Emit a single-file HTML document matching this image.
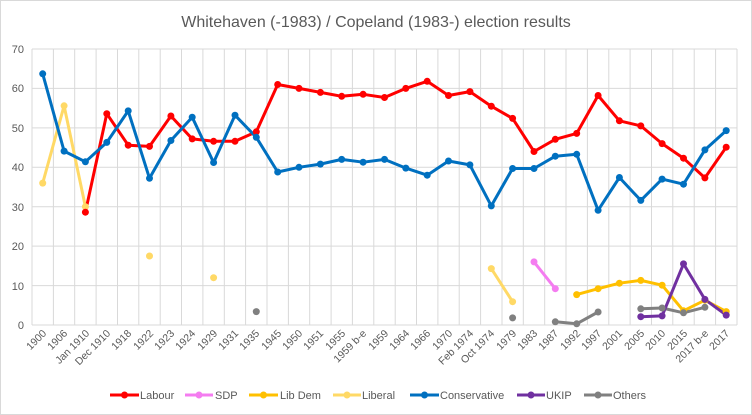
<!DOCTYPE html>
<html><head><meta charset="utf-8"><style>
html,body{margin:0;padding:0;background:#fff}
svg{display:block;font-family:"Liberation Sans",sans-serif}
</style></head><body>
<svg width="752" height="415" viewBox="0 0 752 415" xmlns="http://www.w3.org/2000/svg">
<rect x="0.5" y="0.5" width="751" height="414" fill="#fff" stroke="#d9d9d9"/>
<text x="376" y="27" font-size="16" fill="#595959" text-anchor="middle">Whitehaven (-1983) / Copeland (1983-) election results</text>
<g stroke="#d9d9d9" stroke-width="1">
<line x1="32" y1="49" x2="737" y2="49"/><line x1="32" y1="88.4" x2="737" y2="88.4"/><line x1="32" y1="127.9" x2="737" y2="127.9"/><line x1="32" y1="167.3" x2="737" y2="167.3"/><line x1="32" y1="206.7" x2="737" y2="206.7"/><line x1="32" y1="246.1" x2="737" y2="246.1"/><line x1="32" y1="285.6" x2="737" y2="285.6"/><line x1="32" y1="325" x2="737" y2="325"/>
<line x1="32" y1="49" x2="32" y2="325"/><line x1="53.4" y1="49" x2="53.4" y2="325"/><line x1="74.7" y1="49" x2="74.7" y2="325"/><line x1="96.1" y1="49" x2="96.1" y2="325"/><line x1="117.5" y1="49" x2="117.5" y2="325"/><line x1="138.8" y1="49" x2="138.8" y2="325"/><line x1="160.2" y1="49" x2="160.2" y2="325"/><line x1="181.5" y1="49" x2="181.5" y2="325"/><line x1="202.9" y1="49" x2="202.9" y2="325"/><line x1="224.3" y1="49" x2="224.3" y2="325"/><line x1="245.6" y1="49" x2="245.6" y2="325"/><line x1="267" y1="49" x2="267" y2="325"/><line x1="288.4" y1="49" x2="288.4" y2="325"/><line x1="309.7" y1="49" x2="309.7" y2="325"/><line x1="331.1" y1="49" x2="331.1" y2="325"/><line x1="352.4" y1="49" x2="352.4" y2="325"/><line x1="373.8" y1="49" x2="373.8" y2="325"/><line x1="395.2" y1="49" x2="395.2" y2="325"/><line x1="416.5" y1="49" x2="416.5" y2="325"/><line x1="437.9" y1="49" x2="437.9" y2="325"/><line x1="459.2" y1="49" x2="459.2" y2="325"/><line x1="480.6" y1="49" x2="480.6" y2="325"/><line x1="502" y1="49" x2="502" y2="325"/><line x1="523.3" y1="49" x2="523.3" y2="325"/><line x1="544.7" y1="49" x2="544.7" y2="325"/><line x1="566" y1="49" x2="566" y2="325"/><line x1="587.4" y1="49" x2="587.4" y2="325"/><line x1="608.8" y1="49" x2="608.8" y2="325"/><line x1="630.1" y1="49" x2="630.1" y2="325"/><line x1="651.5" y1="49" x2="651.5" y2="325"/><line x1="672.8" y1="49" x2="672.8" y2="325"/><line x1="694.2" y1="49" x2="694.2" y2="325"/><line x1="715.6" y1="49" x2="715.6" y2="325"/><line x1="737" y1="49" x2="737" y2="325"/>
</g>
<g font-size="11" fill="#595959" text-anchor="end">
<text x="24" y="53">70</text><text x="24" y="92">60</text><text x="24" y="132">50</text><text x="24" y="171">40</text><text x="24" y="211">30</text><text x="24" y="250">20</text><text x="24" y="290">10</text><text x="24" y="329">0</text>
</g>
<g font-size="10.5" fill="#595959" text-anchor="end">
<text transform="translate(47,334) rotate(-45)">1900</text>
<text transform="translate(68,334) rotate(-45)">1906</text>
<text transform="translate(90,334) rotate(-45)">Jan 1910</text>
<text transform="translate(111,334) rotate(-45)">Dec 1910</text>
<text transform="translate(132,334) rotate(-45)">1918</text>
<text transform="translate(154,334) rotate(-45)">1922</text>
<text transform="translate(175,334) rotate(-45)">1923</text>
<text transform="translate(196,334) rotate(-45)">1924</text>
<text transform="translate(218,334) rotate(-45)">1929</text>
<text transform="translate(239,334) rotate(-45)">1931</text>
<text transform="translate(260,334) rotate(-45)">1935</text>
<text transform="translate(282,334) rotate(-45)">1945</text>
<text transform="translate(303,334) rotate(-45)">1950</text>
<text transform="translate(324,334) rotate(-45)">1951</text>
<text transform="translate(346,334) rotate(-45)">1955</text>
<text transform="translate(367,334) rotate(-45)">1959 b-e</text>
<text transform="translate(389,334) rotate(-45)">1959</text>
<text transform="translate(410,334) rotate(-45)">1964</text>
<text transform="translate(431,334) rotate(-45)">1966</text>
<text transform="translate(453,334) rotate(-45)">1970</text>
<text transform="translate(474,334) rotate(-45)">Feb 1974</text>
<text transform="translate(495,334) rotate(-45)">Oct 1974</text>
<text transform="translate(517,334) rotate(-45)">1979</text>
<text transform="translate(538,334) rotate(-45)">1983</text>
<text transform="translate(559,334) rotate(-45)">1987</text>
<text transform="translate(581,334) rotate(-45)">1992</text>
<text transform="translate(602,334) rotate(-45)">1997</text>
<text transform="translate(623,334) rotate(-45)">2001</text>
<text transform="translate(645,334) rotate(-45)">2005</text>
<text transform="translate(666,334) rotate(-45)">2010</text>
<text transform="translate(688,334) rotate(-45)">2015</text>
<text transform="translate(709,334) rotate(-45)">2017 b-e</text>
<text transform="translate(730,334) rotate(-45)">2017</text>
</g>
<g fill="none" stroke-width="3" stroke-linejoin="round">
<polyline stroke="#ffd966" points="42.7,183.1 64.1,105.8 85.4,206.7"/>
<polyline stroke="#ffd966" points="491.3,268.6 512.6,301.7"/>
<polyline stroke="#f47cf0" points="534,261.9 555.3,288.7"/>
<polyline stroke="#ffc000" points="576.7,294.6 598.1,288.7 619.4,283.2 640.8,280.4 662.1,285.2 683.5,310.8 704.9,300.2 726.2,311.6"/>
<polyline stroke="#808080" points="555.3,321.8 576.7,323.8 598.1,312"/>
<polyline stroke="#808080" points="640.8,308.8 662.1,308 683.5,312.8 704.9,307.3"/>
<polyline stroke="#7030a0" points="640.8,316.7 662.1,315.9 683.5,263.9 704.9,299.4 726.2,315.1"/>
<polyline stroke="#ff0000" points="85.4,212.2 106.8,113.7 128.2,145.2 149.5,146.4 170.9,116 192.2,138.9 213.6,141.3 235,141.3 256.3,131.8 277.7,84.5 299,88.4 320.4,92.4 341.7,96.3 363.1,94.3 384.5,97.5 405.8,88.4 427.2,81.3 448.5,95.5 469.9,91.6 491.3,106.2 512.6,118.4 534,151.5 555.3,139.3 576.7,133.4 598.1,95.5 619.4,120.8 640.8,125.9 662.1,143.6 683.5,158.2 704.9,177.9 726.2,147.2"/>
<polyline stroke="#0070c0" points="42.7,73.8 64.1,151.1 85.4,161.8 106.8,142.4 128.2,110.9 149.5,178.3 170.9,140.5 192.2,117.2 213.6,162.5 235,115.2 256.3,137.3 277.7,172 299,167.3 320.4,164.1 341.7,159.4 363.1,162.2 384.5,159.4 405.8,168.1 427.2,175.2 448.5,161 469.9,164.9 491.3,205.9 512.6,168.5 534,168.5 555.3,156.2 576.7,154.3 598.1,210.3 619.4,177.5 640.8,200.4 662.1,179.1 683.5,184.2 704.9,149.9 726.2,130.6"/>
</g>
<g fill="#ffd966"><circle cx="42.7" cy="183.1" r="3.5"/><circle cx="64.1" cy="105.8" r="3.5"/><circle cx="85.4" cy="206.7" r="3.5"/><circle cx="149.5" cy="256" r="3.5"/><circle cx="213.6" cy="277.7" r="3.5"/><circle cx="491.3" cy="268.6" r="3.5"/><circle cx="512.6" cy="301.7" r="3.5"/></g>
<g fill="#f47cf0"><circle cx="534" cy="261.9" r="3.5"/><circle cx="555.3" cy="288.7" r="3.5"/></g>
<g fill="#ffc000"><circle cx="576.7" cy="294.6" r="3.5"/><circle cx="598.1" cy="288.7" r="3.5"/><circle cx="619.4" cy="283.2" r="3.5"/><circle cx="640.8" cy="280.4" r="3.5"/><circle cx="662.1" cy="285.2" r="3.5"/><circle cx="683.5" cy="310.8" r="3.5"/><circle cx="704.9" cy="300.2" r="3.5"/><circle cx="726.2" cy="311.6" r="3.5"/></g>
<g fill="#808080"><circle cx="256.3" cy="311.6" r="3.5"/><circle cx="512.6" cy="317.9" r="3.5"/><circle cx="555.3" cy="321.8" r="3.5"/><circle cx="576.7" cy="323.8" r="3.5"/><circle cx="598.1" cy="312" r="3.5"/><circle cx="640.8" cy="308.8" r="3.5"/><circle cx="662.1" cy="308" r="3.5"/><circle cx="683.5" cy="312.8" r="3.5"/><circle cx="704.9" cy="307.3" r="3.5"/></g>
<g fill="#7030a0"><circle cx="640.8" cy="316.7" r="3.5"/><circle cx="662.1" cy="315.9" r="3.5"/><circle cx="683.5" cy="263.9" r="3.5"/><circle cx="704.9" cy="299.4" r="3.5"/><circle cx="726.2" cy="315.1" r="3.5"/></g>
<g fill="#ff0000"><circle cx="85.4" cy="212.2" r="3.5"/><circle cx="106.8" cy="113.7" r="3.5"/><circle cx="128.2" cy="145.2" r="3.5"/><circle cx="149.5" cy="146.4" r="3.5"/><circle cx="170.9" cy="116" r="3.5"/><circle cx="192.2" cy="138.9" r="3.5"/><circle cx="213.6" cy="141.3" r="3.5"/><circle cx="235" cy="141.3" r="3.5"/><circle cx="256.3" cy="131.8" r="3.5"/><circle cx="277.7" cy="84.5" r="3.5"/><circle cx="299" cy="88.4" r="3.5"/><circle cx="320.4" cy="92.4" r="3.5"/><circle cx="341.7" cy="96.3" r="3.5"/><circle cx="363.1" cy="94.3" r="3.5"/><circle cx="384.5" cy="97.5" r="3.5"/><circle cx="405.8" cy="88.4" r="3.5"/><circle cx="427.2" cy="81.3" r="3.5"/><circle cx="448.5" cy="95.5" r="3.5"/><circle cx="469.9" cy="91.6" r="3.5"/><circle cx="491.3" cy="106.2" r="3.5"/><circle cx="512.6" cy="118.4" r="3.5"/><circle cx="534" cy="151.5" r="3.5"/><circle cx="555.3" cy="139.3" r="3.5"/><circle cx="576.7" cy="133.4" r="3.5"/><circle cx="598.1" cy="95.5" r="3.5"/><circle cx="619.4" cy="120.8" r="3.5"/><circle cx="640.8" cy="125.9" r="3.5"/><circle cx="662.1" cy="143.6" r="3.5"/><circle cx="683.5" cy="158.2" r="3.5"/><circle cx="704.9" cy="177.9" r="3.5"/><circle cx="726.2" cy="147.2" r="3.5"/></g>
<g fill="#0070c0"><circle cx="42.7" cy="73.8" r="3.5"/><circle cx="64.1" cy="151.1" r="3.5"/><circle cx="85.4" cy="161.8" r="3.5"/><circle cx="106.8" cy="142.4" r="3.5"/><circle cx="128.2" cy="110.9" r="3.5"/><circle cx="149.5" cy="178.3" r="3.5"/><circle cx="170.9" cy="140.5" r="3.5"/><circle cx="192.2" cy="117.2" r="3.5"/><circle cx="213.6" cy="162.5" r="3.5"/><circle cx="235" cy="115.2" r="3.5"/><circle cx="256.3" cy="137.3" r="3.5"/><circle cx="277.7" cy="172" r="3.5"/><circle cx="299" cy="167.3" r="3.5"/><circle cx="320.4" cy="164.1" r="3.5"/><circle cx="341.7" cy="159.4" r="3.5"/><circle cx="363.1" cy="162.2" r="3.5"/><circle cx="384.5" cy="159.4" r="3.5"/><circle cx="405.8" cy="168.1" r="3.5"/><circle cx="427.2" cy="175.2" r="3.5"/><circle cx="448.5" cy="161" r="3.5"/><circle cx="469.9" cy="164.9" r="3.5"/><circle cx="491.3" cy="205.9" r="3.5"/><circle cx="512.6" cy="168.5" r="3.5"/><circle cx="534" cy="168.5" r="3.5"/><circle cx="555.3" cy="156.2" r="3.5"/><circle cx="576.7" cy="154.3" r="3.5"/><circle cx="598.1" cy="210.3" r="3.5"/><circle cx="619.4" cy="177.5" r="3.5"/><circle cx="640.8" cy="200.4" r="3.5"/><circle cx="662.1" cy="179.1" r="3.5"/><circle cx="683.5" cy="184.2" r="3.5"/><circle cx="704.9" cy="149.9" r="3.5"/><circle cx="726.2" cy="130.6" r="3.5"/></g>
<g stroke-width="3" font-size="11" fill="#595959">
<line x1="110" y1="395" x2="139" y2="395" stroke="#ff0000"/><circle cx="124.5" cy="395" r="3.5" fill="#ff0000"/><text x="140" y="399">Labour</text>
<line x1="185" y1="395" x2="213" y2="395" stroke="#f47cf0"/><circle cx="199" cy="395" r="3.5" fill="#f47cf0"/><text x="215" y="399">SDP</text>
<line x1="249" y1="395" x2="278" y2="395" stroke="#ffc000"/><circle cx="263.5" cy="395" r="3.5" fill="#ffc000"/><text x="280" y="399">Lib Dem</text>
<line x1="333" y1="395" x2="361" y2="395" stroke="#ffd966"/><circle cx="347" cy="395" r="3.5" fill="#ffd966"/><text x="362" y="399">Liberal</text>
<line x1="410" y1="395" x2="439" y2="395" stroke="#0070c0"/><circle cx="424.5" cy="395" r="3.5" fill="#0070c0"/><text x="440" y="399">Conservative</text>
<line x1="517" y1="395" x2="545" y2="395" stroke="#7030a0"/><circle cx="531" cy="395" r="3.5" fill="#7030a0"/><text x="546" y="399">UKIP</text>
<line x1="584" y1="395" x2="612" y2="395" stroke="#808080"/><circle cx="598" cy="395" r="3.5" fill="#808080"/><text x="613" y="399">Others</text>
</g>
</svg>
</body></html>
